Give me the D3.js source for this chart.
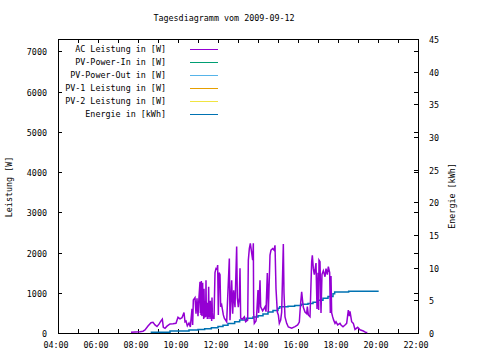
<!DOCTYPE html>
<html><head><meta charset="utf-8">
<script src="https://cdn.jsdelivr.net/npm/d3@7"></script>
<style>
html,body{margin:0;padding:0;background:#fff;}
text{font-family:"DejaVu Sans Mono",monospace;font-size:8.4px;fill:#000;}
</style></head>
<body><svg id="c" width="480" height="360"></svg>
<script>
const title = "Tagesdiagramm vom 2009-09-12";
const xTickLabels = ["04:00","06:00","08:00","10:00","12:00","14:00","16:00","18:00","20:00","22:00"];
const yTicks = [0,1000,2000,3000,4000,5000,6000,7000];
const y2Ticks = [0,5,10,15,20,25,30,35,40,45];
const legendNames = ["AC Leistung in [W]","PV-Power-In in [W]","PV-Power-Out in [W]","PV-1 Leistung in [W]","PV-2 Leistung in [W]","Energie in [kWh]"];
const legendColors = ["#9400D3","#009E73","#56B4E9","#E69F00","#F0E442","#0072B2"];

const acTimes = ["07:39","07:51","08:06","08:15","08:21","08:30","08:39","08:45","08:51","08:57","09:03","09:09","09:13","09:16","09:21","09:27","09:36","09:45","09:54","10:00","10:06","10:12","10:18","10:21","10:24","10:28","10:33","10:37","10:42","10:44","10:46","10:51","10:54","10:57","11:00","11:03",
"11:06","11:07","11:08","11:09","11:10","11:11","11:12","11:13","11:14","11:15","11:16","11:17","11:18","11:19","11:20","11:21","11:22","11:23","11:24","11:25","11:26","11:27","11:28","11:29","11:30","11:31","11:32","11:33","11:34","11:35","11:36","11:37","11:38","11:39","11:40","11:41","11:42","11:43","11:44","11:46","11:48",
"11:51","11:54","11:57","11:59","12:01","12:03","12:06","12:08","12:11","12:13","12:16","12:19","12:26","12:34","12:36","12:41","12:44","12:47","12:51","12:56","12:58","13:01","13:04","13:06","13:08","13:13","13:19","13:23","13:29","13:31","13:34","13:37","13:41","13:44","13:46","13:47","13:49","13:54","13:56","14:00","14:02","14:06","14:08","14:14","14:21","14:24","14:28","14:31","14:36","14:39","14:44","14:48","14:51","14:54","14:58","15:01","15:04","15:08","15:11","15:16","15:18","15:21","15:26","15:31","15:41","15:51","15:59","16:04","16:06","16:08","16:11","16:14","16:16","16:21","16:26","16:28","16:31","16:36","16:41","16:43","16:46","16:49","16:54","16:57","17:00","17:02","17:03","17:06","17:09","17:12","17:16","17:21","17:24","17:28","17:31","17:35","17:37","17:39","17:41","17:44","17:47","17:51","17:54","17:59","18:06","18:09","18:15","18:21","18:26","18:28","18:31","18:34","18:36","18:39","18:41","18:46","18:49","18:51","18:59","19:06","19:16","19:23","19:28"];
const acWatts = [20,25,30,45,75,175,255,265,200,160,220,300,345,140,115,170,225,230,240,390,350,380,510,280,300,180,250,150,600,200,820,880,480,860,420,900,
1270,500,1200,450,1290,600,420,1000,1250,500,800,350,1100,600,380,700,800,400,1310,500,420,750,350,700,350,600,1150,400,450,750,350,800,400,650,700,300,880,500,380,400,350,
1500,1600,1580,1690,450,1500,1450,650,700,600,450,370,280,1850,320,1310,480,1060,640,2150,880,640,880,1610,370,340,400,280,320,1810,2100,2230,1990,1810,2230,500,240,300,450,1070,500,1310,650,550,650,530,1490,520,1935,2060,2100,2060,2180,1100,520,450,240,320,520,2210,990,400,240,150,120,160,200,270,530,750,1025,780,640,520,480,655,450,405,1770,1930,1600,1450,1740,600,1500,570,1810,1770,500,1460,1550,1400,1600,1450,1650,1500,500,1420,500,400,320,240,280,200,240,200,155,200,240,370,570,420,540,380,280,240,150,90,140,80,50,15,10];

const enTimes = ["08:38","09:35","09:36","10:32","10:33","11:00","11:20","11:40","12:00","12:15","12:30","12:50","13:05","13:25","13:45","14:00","14:15","14:30","14:45","15:00","15:05","15:30","15:50","16:10","16:30","16:45","17:00","17:15","17:30","17:45","17:50","18:31","18:32","20:02"];
const enKWh = [0.1,0.1,0.3,0.3,0.46,0.55,0.66,0.8,1.0,1.2,1.45,1.73,2.0,2.25,2.45,2.65,2.9,3.2,3.45,3.8,4.03,4.1,4.2,4.4,4.5,4.7,5.0,5.3,5.6,6.0,6.28,6.28,6.4,6.4];

const toH = s => { const [h,m] = s.split(":").map(Number); return h + m/60; };

const L = 58, R = 418, T = 39, B = 333;
const svg = d3.select("#c");
const x = d3.scaleLinear().domain([4,22]).range([L,R]);
const y = d3.scaleLinear().domain([0,7310]).range([B,T]);
const y2 = d3.scaleLinear().domain([0,45]).range([B,T]);

svg.append("text").attr("x",224).attr("y",21).attr("text-anchor","middle").text(title);

svg.append("rect").attr("x",L+0.5).attr("y",T+0.5).attr("width",R-L).attr("height",B-T)
  .attr("fill","none").attr("stroke","#000").attr("stroke-width",1);

const g = svg.append("g").attr("stroke","#000").attr("stroke-width",1);
const hours = d3.range(4,23);
hours.forEach(h => {
  const px = Math.round(x(h))+0.5;
  g.append("line").attr("x1",px).attr("x2",px).attr("y1",B).attr("y2",B-4);
  g.append("line").attr("x1",px).attr("x2",px).attr("y1",T).attr("y2",T+4);
});
xTickLabels.forEach(lbl => {
  svg.append("text").attr("x",x(toH(lbl))-2).attr("y",348).attr("text-anchor","middle").text(lbl);
});
yTicks.forEach(v => {
  const py = Math.round(y(v))+0.5;
  g.append("line").attr("x1",L).attr("x2",L+4).attr("y1",py).attr("y2",py);
  g.append("line").attr("x1",R).attr("x2",R-4).attr("y1",py).attr("y2",py);
  svg.append("text").attr("x",47).attr("y",py+3).attr("text-anchor","end").text(v);
});
y2Ticks.forEach(v => {
  const py = Math.round(y2(v))+0.5;
  g.append("line").attr("x1",R).attr("x2",R-4).attr("y1",py).attr("y2",py);
  svg.append("text").attr("x",429).attr("y",py+3).attr("text-anchor","start").text(v);
});

svg.append("text").attr("transform","translate(12,187) rotate(-90)").attr("text-anchor","middle").text("Leistung [W]");
svg.append("text").attr("transform","translate(455,196) rotate(-90)").attr("text-anchor","middle").text("Energie [kWh]");

const acData = acTimes.map((t,i)=>({h:toH(t), v:acWatts[i]}));
const enData = enTimes.map((t,i)=>({h:toH(t), v:enKWh[i]}));
svg.append("path").datum(enData)
  .attr("d", d3.line().x(d=>x(d.h)).y(d=>y2(d.v)).curve(d3.curveStepAfter))
  .attr("fill","none").attr("stroke",legendColors[5]).attr("stroke-width",1.5);
svg.append("path").datum(acData)
  .attr("d", d3.line().x(d=>x(d.h)).y(d=>y(d.v)))
  .attr("fill","none").attr("stroke",legendColors[0]).attr("stroke-width",1.5).attr("stroke-linejoin","miter");

legendNames.forEach((n,i) => {
  const ly = Math.round(49 + i*13.05)+0.5;
  svg.append("text").attr("x",166).attr("y",ly+2).attr("text-anchor","end").text(n);
  svg.append("line").attr("x1",190).attr("x2",218).attr("y1",ly).attr("y2",ly)
    .attr("stroke",legendColors[i]).attr("stroke-width",1);
});
</script></body></html>
